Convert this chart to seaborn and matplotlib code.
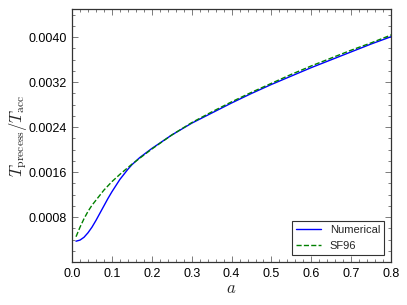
"""Precession timescale vs spin: numerical result compared with SF96."""

import matplotlib

matplotlib.use("Agg")
import matplotlib.pyplot as plt
import pandas as pd
import seaborn as sns
from matplotlib.ticker import FuncFormatter, FormatStrFormatter, MultipleLocator

a_num = [0.01, 0.02, 0.03, 0.04, 0.05, 0.06, 0.07, 0.08, 0.09, 0.10, 0.11,
         0.12, 0.13, 0.14, 0.15, 0.17, 0.20, 0.25, 0.30, 0.35, 0.40, 0.45,
         0.50, 0.55, 0.60, 0.65, 0.70, 0.75, 0.80]
t_num = [0.00037, 0.00039, 0.00044, 0.00052, 0.00062, 0.00074, 0.00087,
         0.00100, 0.00113, 0.00125, 0.00136, 0.00147, 0.00156, 0.00165,
         0.00173, 0.00186, 0.00202, 0.00226, 0.00247, 0.00265, 0.00283,
         0.00300, 0.00316, 0.00331, 0.00346, 0.00360, 0.00374, 0.00388,
         0.00401]

a_sf = [0.01, 0.02, 0.03, 0.04, 0.05, 0.06, 0.07, 0.08, 0.10, 0.12, 0.15,
        0.20, 0.25, 0.30, 0.35, 0.40, 0.45, 0.50, 0.55, 0.60, 0.65, 0.70,
        0.75, 0.80]
t_sf = [0.00045, 0.00062, 0.00077, 0.00090, 0.00101, 0.00110, 0.00119,
        0.00128, 0.00143, 0.00156, 0.00174, 0.00201, 0.00226, 0.00248,
        0.00267, 0.00285, 0.00302, 0.00318, 0.00334, 0.00349, 0.00363,
        0.00377, 0.00390, 0.00404]

num = pd.DataFrame({"a": a_num, "T": t_num})
sf = pd.DataFrame({"a": a_sf, "T": t_sf})

sns.set_theme(style="white", rc={"xtick.direction": "in", "ytick.direction": "in"})
plt.rcParams["font.family"] = ["Liberation Sans", "DejaVu Sans"]
plt.rcParams["mathtext.fontset"] = "cm"

fig = plt.figure(figsize=(4.07, 3.05), dpi=100)
ax = fig.add_axes([0.177, 0.141, 0.784, 0.829])

sns.lineplot(data=num, x="a", y="T", ax=ax, color="blue", lw=1.0,
             label="Numerical")
sns.lineplot(data=sf, x="a", y="T", ax=ax, color="green", lw=1.0,
             linestyle="--", label="SF96")

ax.set_xlim(0, 0.8)
ax.set_ylim(0, 0.0045)
ax.xaxis.set_major_locator(MultipleLocator(0.1))
ax.xaxis.set_minor_locator(MultipleLocator(0.02))
ax.yaxis.set_major_locator(MultipleLocator(0.0008))
ax.yaxis.set_minor_locator(MultipleLocator(0.0002))
ax.yaxis.set_major_formatter(FuncFormatter(lambda v, _: "" if abs(v) < 1e-9 else f"{v:.4f}"))
ax.xaxis.set_major_formatter(FormatStrFormatter("%.1f"))
ax.tick_params(which="both", direction="in", top=True, right=True,
               bottom=True, left=True, labelsize=9, color="#666666",
               labelcolor="black", width=0.6)
ax.tick_params(which="major", length=4, pad=4)
ax.tick_params(which="minor", length=2)
for s in ax.spines.values():
    s.set_linewidth(0.9)
    s.set_color("#333333")

ax.set_xlabel(r"$a$", fontsize=12, labelpad=1)
ax.set_ylabel(r"$T_{\rm precess}/T_{\rm acc}$", fontsize=12, labelpad=-1)

leg = ax.legend(loc="lower right", fontsize=8, fancybox=False,
                edgecolor="#333333", framealpha=1, handlelength=2.2,
                borderaxespad=0.6)
leg.get_frame().set_linewidth(0.8)

fig.savefig("out.png", dpi=100)
